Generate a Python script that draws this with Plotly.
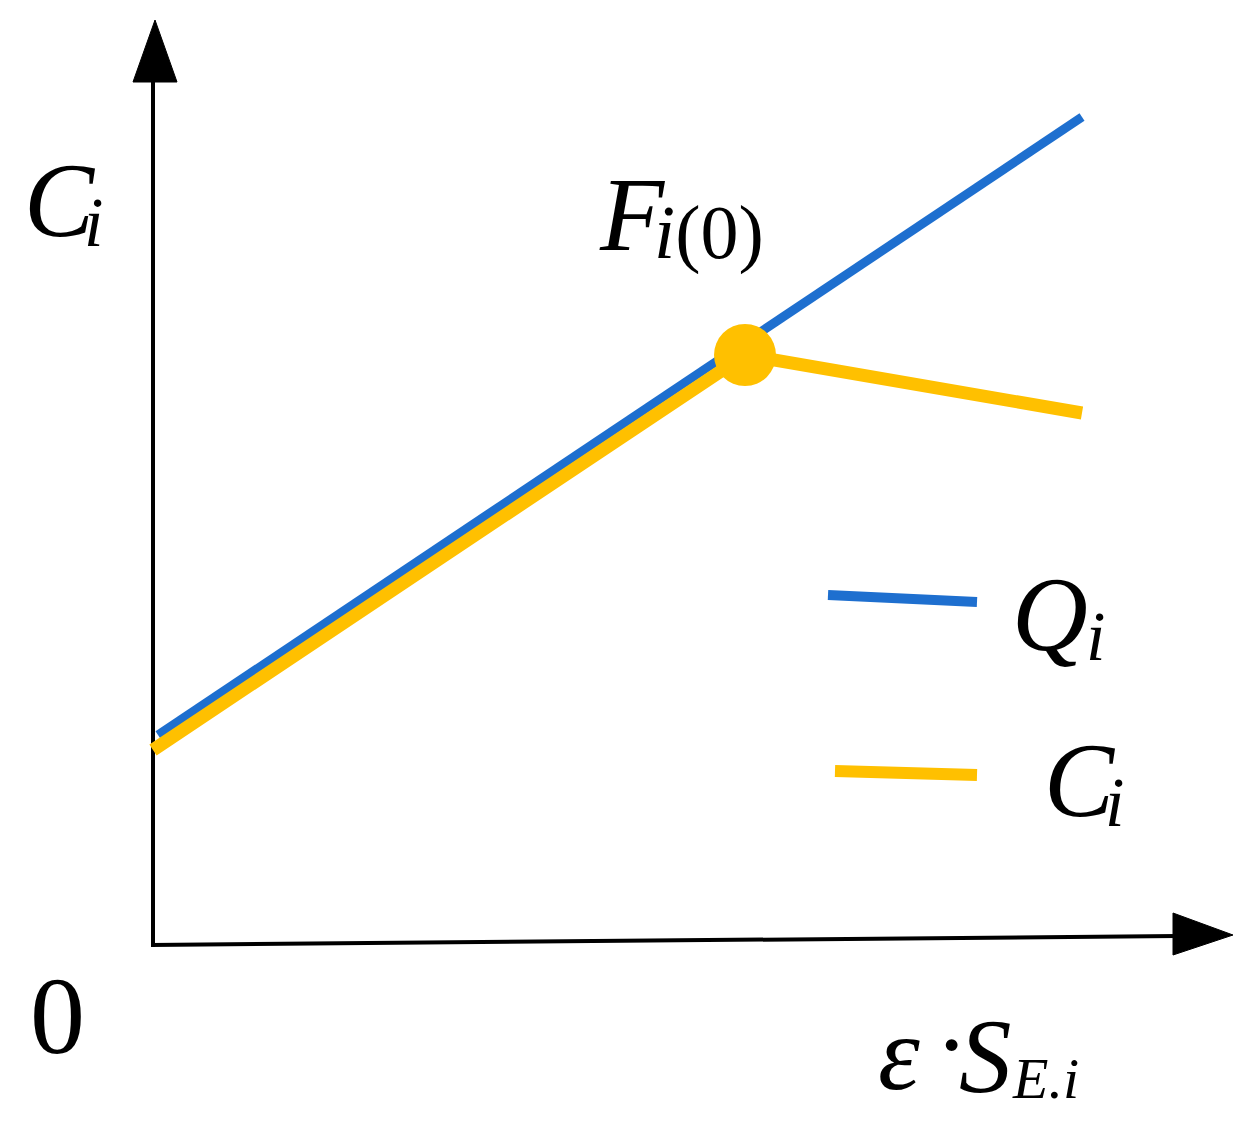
import plotly.graph_objects as go

# ---- data (conceptual units; origin at the axes' corner) ----
q_x = [0.05, 9.29]
q_y = [2.10, 8.28]

c_x = [0.0, 5.92, 9.29]
c_y = [1.95, 5.90, 5.32]

f0_x = [5.92]
f0_y = [5.90]

# axis lines and arrowheads
yaxis_line_x = [0.0, 0.0]
yaxis_line_y = [-0.02, 8.66]
yarrow_x = [0.02, -0.20, 0.24, 0.02]
yarrow_y = [9.25, 8.63, 8.63, 9.25]

xaxis_line_x = [-0.02, 10.24]
xaxis_line_y = [0.0, 0.09]
xarrow_x = [10.80, 10.20, 10.20, 10.80]
xarrow_y = [0.10, 0.32, -0.10, 0.10]

# legend key segments
leg_q_x = [6.75, 8.24]
leg_q_y = [3.50, 3.43]
leg_c_x = [6.82, 8.24]
leg_c_y = [1.74, 1.70]

BLUE = "#1E6FCF"
GOLD = "#FFC000"
FONT = "Liberation Serif"

fig = go.Figure()

fig.add_trace(go.Scatter(x=yaxis_line_x, y=yaxis_line_y, mode="lines",
                         line=dict(color="black", width=4), hoverinfo="skip"))
fig.add_trace(go.Scatter(x=yarrow_x, y=yarrow_y, mode="lines", fill="toself",
                         fillcolor="black", line=dict(color="black", width=1), hoverinfo="skip"))
fig.add_trace(go.Scatter(x=xaxis_line_x, y=xaxis_line_y, mode="lines",
                         line=dict(color="black", width=4), hoverinfo="skip"))
fig.add_trace(go.Scatter(x=xarrow_x, y=xarrow_y, mode="lines", fill="toself",
                         fillcolor="black", line=dict(color="black", width=1), hoverinfo="skip"))

fig.add_trace(go.Scatter(x=q_x, y=q_y, mode="lines", name="Qi",
                         line=dict(color=BLUE, width=9)))
fig.add_trace(go.Scatter(x=c_x, y=c_y, mode="lines", name="Ci",
                         line=dict(color=GOLD, width=13)))
fig.add_trace(go.Scatter(x=f0_x, y=f0_y, mode="markers", name="Fi(0)",
                         marker=dict(color=GOLD, size=62, line=dict(width=0))))

fig.add_trace(go.Scatter(x=leg_q_x, y=leg_q_y, mode="lines",
                         line=dict(color=BLUE, width=10), hoverinfo="skip"))
fig.add_trace(go.Scatter(x=leg_c_x, y=leg_c_y, mode="lines",
                         line=dict(color=GOLD, width=12), hoverinfo="skip"))

def label(x, y, text, size):
    fig.add_annotation(x=x, y=y, xref="x", yref="y", text=text, showarrow=False,
                       xanchor="left", yanchor="bottom",
                       font=dict(family=FONT, size=size, color="black"))

# C_i (vertical axis name)
label(-1.31, 6.84, "<i>C</i>", 105)
label(-0.71, 6.82, "<i>i</i>", 70)
# F_i(0)
label(4.44, 6.70, "<i>F</i>", 105)
label(4.99, 6.68, "<i>i</i>(0)", 76)
# legend labels
label(8.57, 2.70, "<i>Q</i>", 105)
label(9.31, 2.68, "<i>i</i>", 70)
label(8.89, 1.04, "<i>C</i>", 105)
label(9.50, 1.02, "<i>i</i>", 70)
# origin
label(-1.25, -1.34, "0", 110)
# horizontal axis name
label(7.23, -1.69, "<i>ε</i>", 106)
label(7.80, -1.57, "·", 100)
label(8.04, -1.72, "<i>S</i>", 105)
label(8.57, -1.68, "<i>E.i</i>", 58)

fig.update_layout(
    width=1240, height=1116,
    margin=dict(l=0, r=0, t=0, b=0),
    paper_bgcolor="white", plot_bgcolor="white",
    showlegend=False,
    xaxis=dict(range=[-1.45, 10.95], visible=False, fixedrange=True),
    yaxis=dict(range=[-1.79, 9.37], visible=False, fixedrange=True),
)

fig.write_html("out.html")
